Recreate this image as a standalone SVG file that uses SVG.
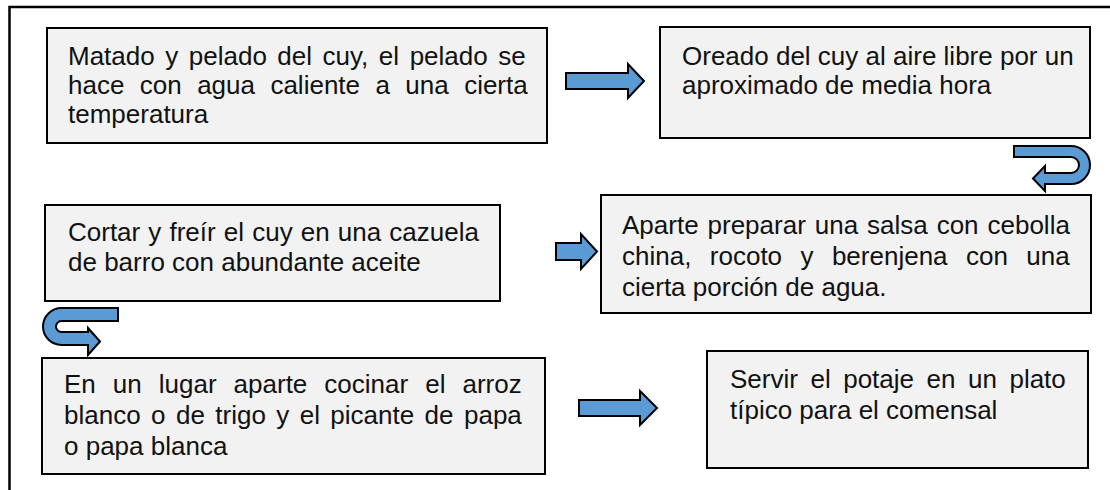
<svg xmlns="http://www.w3.org/2000/svg" width="1110" height="490" viewBox="0 0 1110 490">
<style>
.box{fill:#f2f2f2;stroke:#000;stroke-width:2}
.t{font-family:"Liberation Sans",Arial,sans-serif;font-size:26px;fill:#111}
.arr{fill:#5b9bd5;stroke:#000;stroke-width:2;stroke-linejoin:miter}
.frame{stroke:#000;stroke-width:2.5;fill:none}
</style>
<rect width="1110" height="490" fill="#fff"/>
<path class="frame" d="M9.5,490 L9.5,7 L1110,7"/>
<g id="node1">
<rect class="box" x="47" y="28" width="500" height="115"/>
<text class="t" x="68" y="65" word-spacing="3.3">Matado y pelado del cuy, el pelado se</text>
<text class="t" x="68" y="94" word-spacing="8.2">hace con agua caliente a una cierta</text>
<text class="t" x="68" y="123">temperatura</text>
</g>
<g id="node2">
<rect class="box" x="660" y="27" width="430" height="111"/>
<text class="t" x="682" y="65">Oreado del cuy al aire libre por un</text>
<text class="t" x="682" y="94">aproximado de media hora</text>
</g>
<g id="node3">
<rect class="box" x="601" y="195" width="490" height="118"/>
<text class="t" x="622" y="234" word-spacing="1.7">Aparte preparar una salsa con cebolla</text>
<text class="t" x="622" y="265" word-spacing="11.2">china, rocoto y berenjena con una</text>
<text class="t" x="622" y="296">cierta porción de agua.</text>
</g>
<g id="node4">
<rect class="box" x="45" y="205" width="455" height="96"/>
<text class="t" x="68" y="241" word-spacing="0.9">Cortar y freír el cuy en una cazuela</text>
<text class="t" x="68" y="271">de barro con abundante aceite</text>
</g>
<g id="node5">
<rect class="box" x="42" y="358" width="503" height="116"/>
<text class="t" x="64" y="393" word-spacing="9.8">En un lugar aparte cocinar el arroz</text>
<text class="t" x="64" y="424" word-spacing="3.2">blanco o de trigo y el picante de papa</text>
<text class="t" x="64" y="455">o papa blanca</text>
</g>
<g id="node6">
<rect class="box" x="707" y="351" width="381" height="117"/>
<text class="t" x="730" y="388" word-spacing="5.3">Servir el potaje en un plato</text>
<text class="t" x="730" y="419">típico para el comensal</text>
</g>
<g id="connectors">
<polygon class="arr" points="566,73 628,73 628,64 644,81 628,98 628,89 566,89"/>
<path class="arr" d="M1014,146 L1071,146 A19,19 0 0 1 1071,184 L1045,184 L1045,191 L1033,178.5 L1045,166 L1045,173 L1071,173 A8,8 0 0 0 1071,157 L1014,157 Z"/>
<polygon class="arr" points="556,243 581,243 581,234 597,251.5 581,269 581,260 556,260"/>
<path class="arr" d="M118,308 L61.5,308 A18.5,18.5 0 0 0 61.5,345 L88,345 L88,355 L100,341.5 L88,328 L88,332 L61.5,332 A5.5,5.5 0 0 1 61.5,321 L118,321 Z"/>
<polygon class="arr" points="579,400 640,400 640,391 657,408 640,425 640,416 579,416"/>
</g>
</svg>
